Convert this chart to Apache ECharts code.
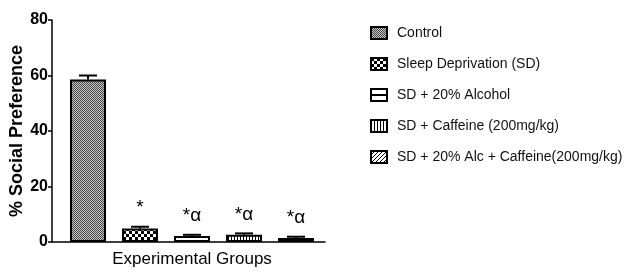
<!DOCTYPE html>
<html><head><meta charset="utf-8">
<script src="https://cdn.jsdelivr.net/npm/echarts@6/dist/echarts.min.js"></script>
<style>html,body{margin:0;padding:0;background:#fff}#c{width:639px;height:272px}</style>
</head><body><div id="c"></div>
<script>
var groups = ['Control', 'Sleep Deprivation (SD)', 'SD + 20% Alcohol', 'SD + Caffeine (200mg/kg)', 'SD + 20% Alc + Caffeine(200mg/kg)'];
var means = [58.6, 4.9, 2.2, 2.6, 1.4];
var sems = [1.4, 0.6, 0.4, 0.5, 0.5];
var sigLabels = ['', '*', '*α', '*α', '*α'];
var yTicks = [0, 20, 40, 60, 80];

function mk(w, h, draw) {
  var c = document.createElement('canvas'); c.width = w; c.height = h;
  var g = c.getContext('2d'); g.fillStyle = '#fff'; g.fillRect(0, 0, w, h); draw(g); return c;
}
var patterns = [
  mk(2, 2, function (g) { g.fillStyle = '#c4c4c4'; g.fillRect(0,0,2,2); g.fillStyle = '#4a4a4a'; g.fillRect(0,0,1,1); g.fillRect(1,1,1,1); }),
  mk(6, 6, function (g) { g.fillStyle = '#000'; g.fillRect(0,0,3,3); g.fillRect(3,3,3,3); }),
  mk(12, 12, function (g) { g.fillStyle = '#000'; g.fillRect(0,5,12,2); }),
  mk(3, 3, function (g) { g.fillStyle = '#000'; g.fillRect(0,0,1,3); }),
  mk(4, 4, function (g) { g.fillStyle = '#000'; g.fillRect(3,0,1,1); g.fillRect(2,1,1,1); g.fillRect(1,2,1,1); g.fillRect(0,3,1,1); })
];

var series = groups.map(function (name, i) {
  return {
    name: name, type: 'bar', xAxisIndex: 0, yAxisIndex: 0,
    barWidth: 36, barGap: '-100%',
    itemStyle: { color: { image: patterns[i], repeat: 'repeat' }, borderColor: '#000', borderWidth: 2 },
    label: { show: true, position: 'top', distance: 11, fontFamily: 'Liberation Sans', fontSize: 19, color: '#000',
      formatter: function () { return sigLabels[i]; } },
    data: means.map(function (v, j) { return j === i ? v : '-'; })
  };
});
series.push({
  type: 'custom', xAxisIndex: 0, yAxisIndex: 0, silent: true,
  data: means.map(function (v, j) { return [j, v, sems[j]]; }),
  renderItem: function (params, api) {
    var x = api.value(0), v = api.value(1), e = api.value(2);
    var p0 = api.coord([x, v]), p1 = api.coord([x, v + e]);
    var hw = 9;
    return { type: 'group', children: [
      { type: 'line', shape: { x1: p0[0], y1: p0[1], x2: p1[0], y2: p1[1] }, style: { stroke: '#000', lineWidth: 2 } },
      { type: 'line', shape: { x1: p1[0] - hw, y1: p1[1], x2: p1[0] + hw, y2: p1[1] }, style: { stroke: '#000', lineWidth: 2 } }
    ] };
  }
});
series.push({ type: 'line', xAxisIndex: 1, yAxisIndex: 1, data: [], silent: true });

var chart = echarts.init(document.getElementById('c'), null, { renderer: 'canvas' });
chart.setOption({
  animation: false,
  grid: [
    { left: 62, width: 260, top: 20, bottom: 30, outerBoundsMode: 'none', containLabel: false },
    { left: 52, width: 273, top: 20, bottom: 30, outerBoundsMode: 'none', containLabel: false }
  ],
  legend: {
    orient: 'vertical', left: 370, top: 26, padding: 0, itemWidth: 16, itemHeight: 12, itemGap: 17,
    icon: 'rect',
    data: groups,
    textStyle: { fontFamily: 'Liberation Sans', fontSize: 14, color: '#111', padding: [0, 0, 0, 5] }
  },
  xAxis: [
    { type: 'category', gridIndex: 0, data: groups, axisLine: { show: false }, axisTick: { show: false }, axisLabel: { show: false },
      name: 'Experimental Groups', nameLocation: 'middle', nameGap: 9,
      nameTextStyle: { fontFamily: 'Liberation Sans', fontWeight: 'normal', fontSize: 17, color: '#000' } },
    { type: 'value', gridIndex: 1, min: 0, max: 1, axisLine: { show: true, onZero: false, lineStyle: { color: '#000', width: 1.5 } },
      axisTick: { show: false }, axisLabel: { show: false }, splitLine: { show: false } }
  ],
  yAxis: [
    { type: 'value', gridIndex: 0, min: yTicks[0], max: yTicks[yTicks.length - 1], interval: 20, offset: 10,
      axisLine: { show: true, lineStyle: { color: '#000', width: 1.5 } },
      axisTick: { show: true, length: 4, lineStyle: { color: '#000', width: 1.5 } },
      axisLabel: { fontFamily: 'Liberation Sans', fontWeight: 'bold', fontSize: 16, color: '#000', margin: 4 },
      splitLine: { show: false },
      name: '% Social Preference', nameLocation: 'middle', nameGap: 26, nameRotate: 90, nameMoveOverlap: false,
      nameTextStyle: { fontFamily: 'Liberation Sans', fontWeight: 'bold', fontSize: 18, color: '#000' } },
    { type: 'value', gridIndex: 1, show: false, min: 0, max: 1 }
  ],
  series: series
});
</script></body></html>
